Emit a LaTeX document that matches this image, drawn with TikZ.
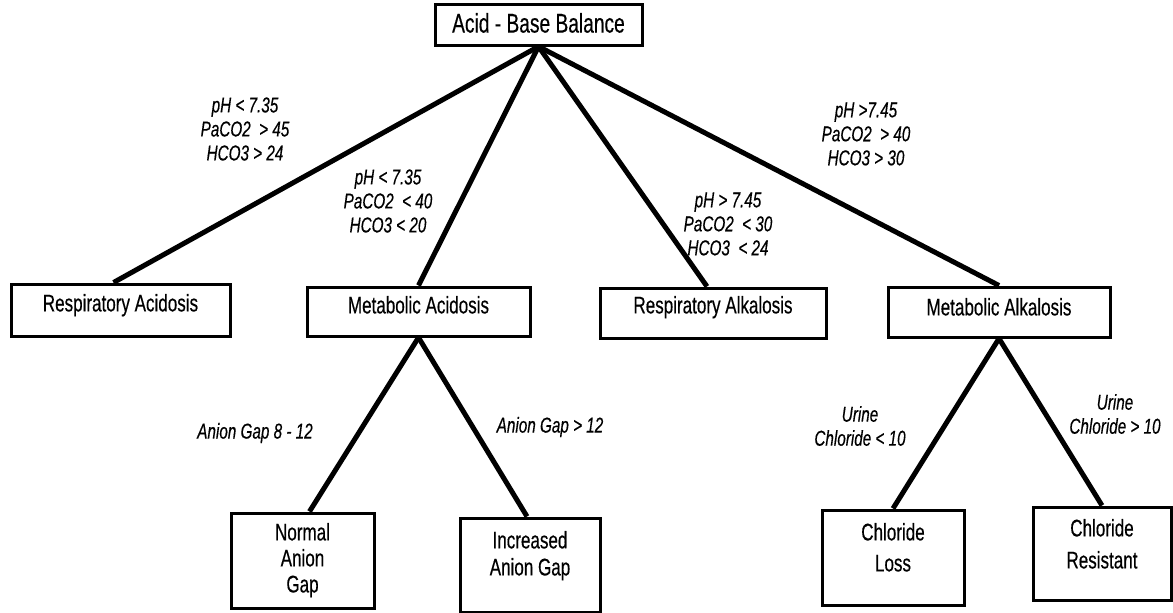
\documentclass[tikz,border=0pt]{standalone}
\usepackage{fontspec}
\setmainfont{Liberation Sans}[FakeStretch=0.71, FakeBold=0.4]
% box contents: width, height, top padding, font size, line spacing, text
\newcommand\boxtext[6]{\parbox[c][#2][t]{#1}{\fontsize{#4}{#5}\selectfont\centering\vspace*{#3}#6\par}}
\tikzset{
  box/.style={draw, line width=3pt, inner sep=0pt},
  branch/.style={line width=5pt},
  cond/.style={font=\fontsize{21.5}{24}\selectfont\itshape, align=center, inner sep=0pt},
}
\begin{document}
\begin{tikzpicture}[x=1pt,y=-1pt]
\useasboundingbox (0,0) rectangle (1173,613);

% root
\node[box] (top) at (538.5,24.5) {\boxtext{207pt}{41pt}{9pt}{27}{30}{Acid - Base Balance}};

% first level
\node[box] (ra)   at (120.5,310)  {\boxtext{219pt}{52pt}{10pt}{24}{27}{Respiratory Acidosis}};
\node[box] (ma)   at (418.5,311.5){\boxtext{223pt}{49pt}{9pt}{24}{27}{Metabolic Acidosis}};
\node[box] (ralk) at (713,313)    {\boxtext{226pt}{50pt}{8pt}{24}{27}{Respiratory Alkalosis}};
\node[box] (malk) at (999,312)    {\boxtext{222pt}{50pt}{11pt}{24}{27}{Metabolic Alkalosis}};

% second level
\node[box] (normal) at (302.5,560.5) {\boxtext{143pt}{95pt}{10pt}{24}{26}{Normal\\Anion\\Gap}};
\node[box] (incr)   at (530,565)     {\boxtext{140pt}{94pt}{13pt}{24}{27}{Increased\\Anion Gap}};
\node[box] (closs)  at (893,557.5)   {\boxtext{142pt}{95pt}{13pt}{24}{31}{Chloride\\Loss}};
\node[box] (cres)   at (1102,553.5)  {\boxtext{138pt}{93pt}{12pt}{24}{32}{Chloride\\Resistant}};

% branches
\draw[branch] (top.south) -- ([xshift=-7pt]ra.north);
\draw[branch] (top.south) -- (ma.north);
\draw[branch] (top.south) -- ([xshift=-6pt]ralk.north);
\draw[branch] (top.south) -- (malk.north);
\draw[branch] (ma.south) -- ([xshift=7pt]normal.north);
\draw[branch] (ma.south) -- ([xshift=-3pt]incr.north);
\draw[branch] (malk.south) -- (closs.north);
\draw[branch] (malk.south) -- (cres.north);

% branch conditions
\node[cond] (c1) at (245,129) {pH < 7.35\\PaCO2\ \ > 45\\HCO3 > 24};
\node[cond] (c2) at (388,201) {pH < 7.35\\PaCO2\ \ < 40\\HCO3 < 20};
\node[cond] (c3) at (728,224) {pH > 7.45\\PaCO2\ \ < 30\\HCO3\ \ < 24};
\node[cond] (c4) at (866,134) {pH >7.45\\PaCO2\ \ > 40\\HCO3 > 30};
\node[cond] (ag1) at (255,433) {Anion Gap 8 - 12};
\node[cond] (ag2) at (550,427) {Anion Gap > 12};
\node[cond] (u1) at (860,426) {Urine\\Chloride < 10};
\node[cond] (u2) at (1115,414) {Urine\\Chloride > 10};
\end{tikzpicture}
\end{document}
